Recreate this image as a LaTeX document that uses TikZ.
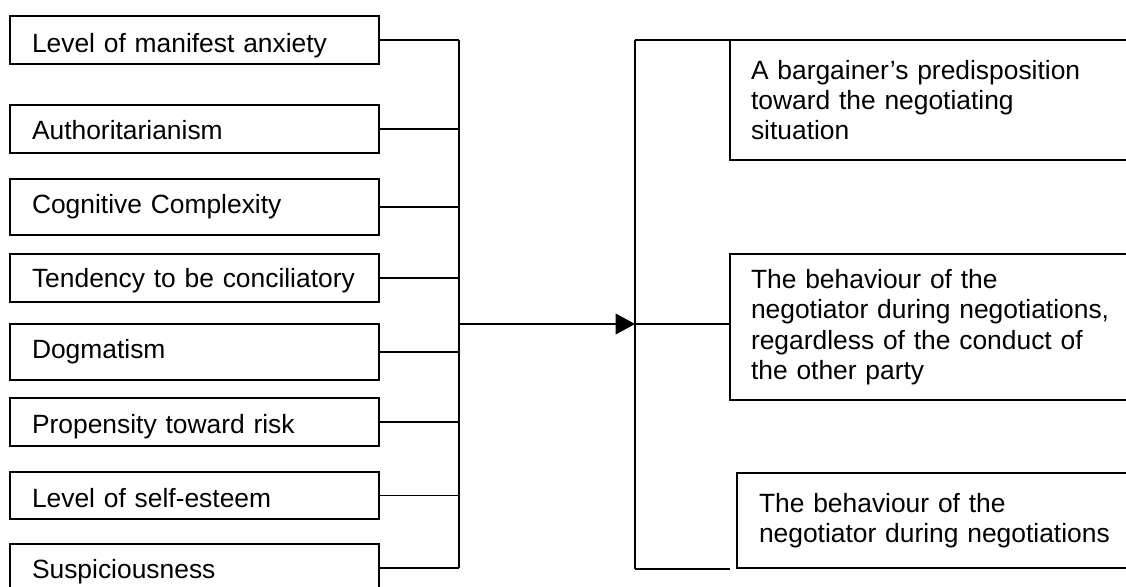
\documentclass[tikz,border=0pt]{standalone}
\usepackage{fontspec}
\setmainfont{Liberation Sans}
\usetikzlibrary{arrows.meta}
\begin{document}
\begin{tikzpicture}[x=0.75pt,y=-0.75pt,
  line width=1.1pt,
  every node/.style={font=\fontsize{19.8pt}{22.8pt}\selectfont},
  factor/.style 2 args={draw, anchor=north west, outer sep=0pt,
    inner xsep=16.5pt, inner ysep=0pt, text width=243.75pt, align=left,
    text height=#1, text depth=#2},
  effect/.style={draw, anchor=north west, outer sep=0pt,
    inner xsep=15.75pt, inner ysep=0pt, text width=283.5pt, align=left},
  link/.style={draw},
  feed/.style={draw, -{Triangle[length=14.5pt,width=15.5pt]}}
]
\useasboundingbox (0,0) rectangle (1126,586);
\clip (0,0) rectangle (1126,586);

% personality factors (text height + text depth = box height)
\node[factor={27pt}{9pt}]       (f1) at (10,16)  {Level of manifest anxiety};
\node[factor={25.5pt}{10.5pt}]  (f2) at (10,105) {Authoritarianism};
\node[factor={25.5pt}{16.5pt}]  (f3) at (10,179) {Cognitive Complexity};
\node[factor={25pt}{11pt}]      (f4) at (10,254) {Tendency to be conciliatory};
\node[factor={25.5pt}{16.5pt}]  (f5) at (10,324) {Dogmatism};
\node[factor={26.25pt}{9.75pt}] (f6) at (10,398) {Propensity toward risk};
\node[factor={26.25pt}{9pt}]    (f7) at (10,472) {Level of self-esteem};
\node[factor={25.5pt}{10.5pt}]  (f8) at (10,544) {Suspiciousness};

% outcomes
\node[effect, minimum height=90pt] (r1) at (730,40)
  {A bargainer’s predisposition\\toward the negotiating\\situation};
\node[effect, minimum height=109.5pt] (r2) at (730,254)
  {The behaviour of the\\negotiator during negotiations,\\regardless of the conduct of\\the other party};
\node[effect, inner xsep=16.5pt, minimum height=71.25pt] (r3) at (737,473)
  {The behaviour of the\\negotiator during negotiations};

% collecting bus
\coordinate (bus)  at (459,40);
\coordinate (out)  at (459,324);
\coordinate (brk)  at (635,324);
\coordinate (brkTop) at (635,40);
\coordinate (brkBot) at (635,569);
\coordinate (brkEnd) at (730,569);

\foreach \i in {1,...,8}
  \draw[link] (f\i.east) -- (f\i.east -| bus);
\draw[link] (f1.east -| bus) -- (f8.east -| bus);

% main arrow
\draw[feed] (out) -- (brk);

% distributing bracket
\draw[link] (brkTop) -- (brkBot);
\draw[link] (brkTop) -- (r1.north west);
\draw[link] (brk) -- (brk -| r2.west);
\draw[link] (brkBot) -- (brkEnd);
\end{tikzpicture}
\end{document}
